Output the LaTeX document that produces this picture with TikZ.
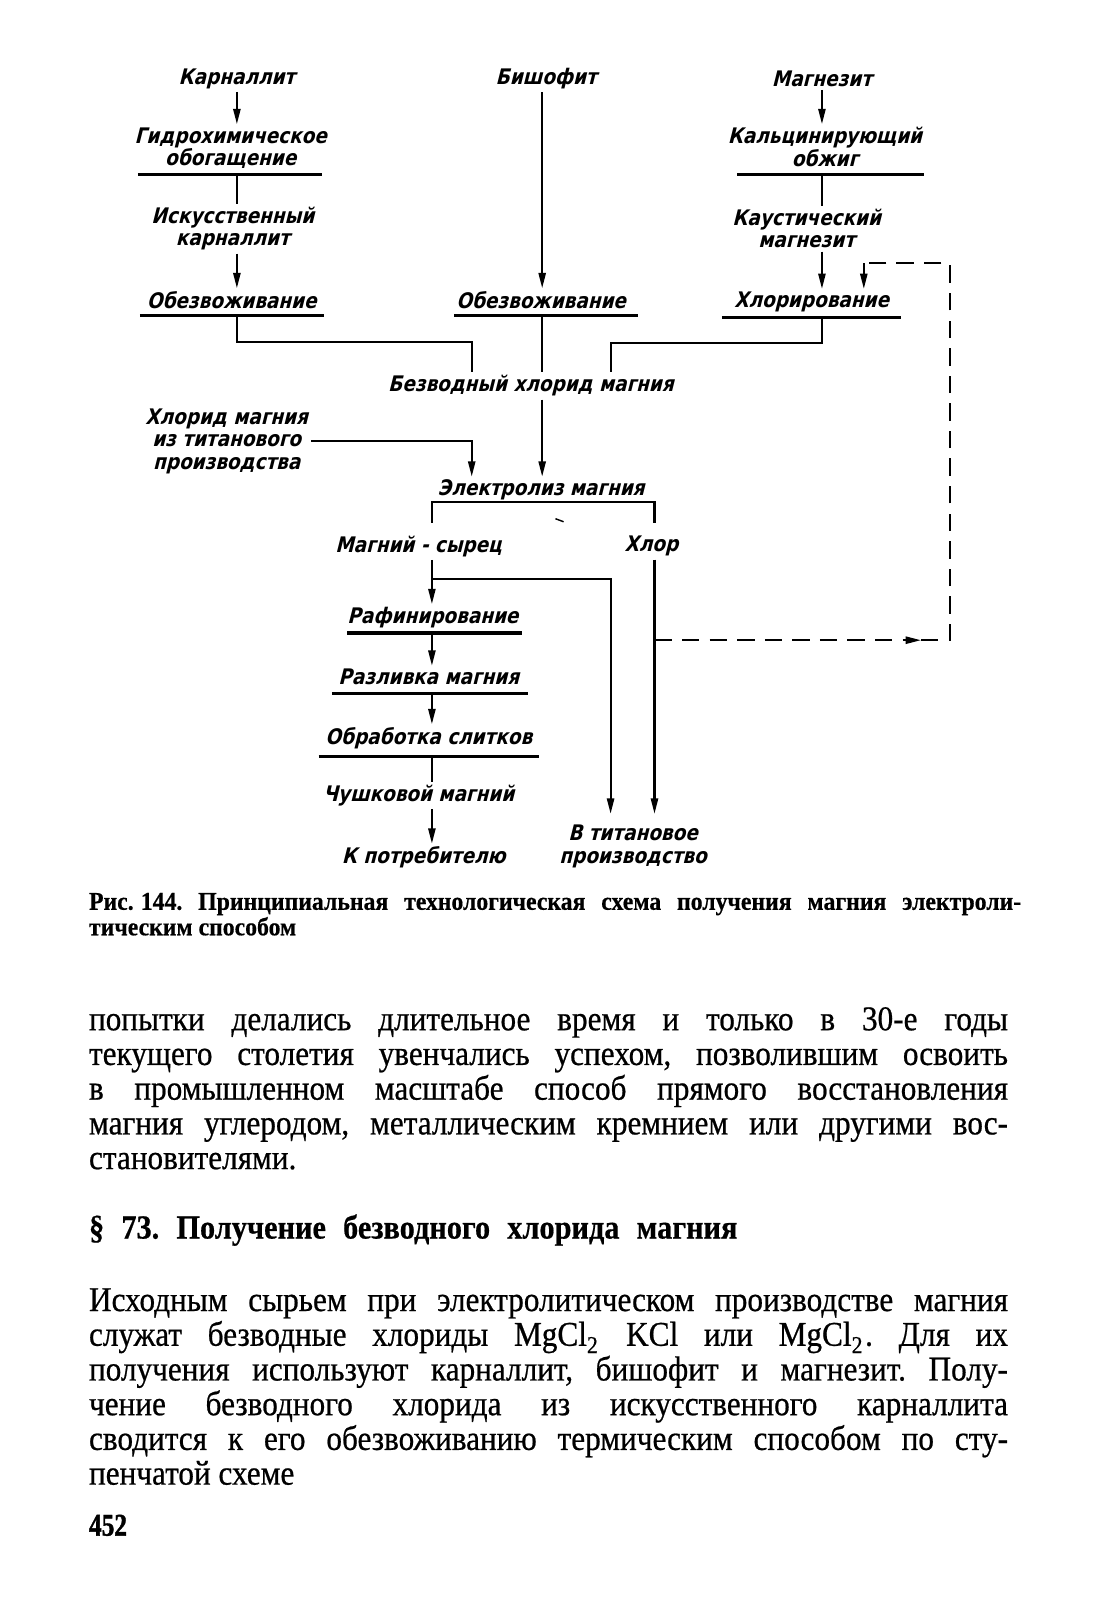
\documentclass[tikz,border=0pt]{standalone}
\usepackage{fontspec}
\setmainfont{Liberation Serif}[FakeStretch=0.9]
\newfontfamily\bodyfont{Liberation Serif}[FakeStretch=0.9,FakeBold=0.6]
\newfontfamily\capfont{Liberation Serif Bold}[FakeStretch=0.93,FakeBold=0.5]
\newfontfamily\headfont{Liberation Serif Bold}[FakeStretch=0.9,FakeBold=0.5]
\newfontfamily\pgfont{Liberation Serif Bold}[FakeStretch=0.8,FakeBold=1.2]
\newfontfamily\dia{DejaVu Sans}[FakeSlant=0.25,FakeStretch=0.86,UprightFont=* Bold]
\usetikzlibrary{arrows.meta}
\begin{document}
\frenchspacing
\begin{tikzpicture}[x=1pt,y=-1pt,
  lbl/.style={font=\dia\fontsize{21}{22}\selectfont, inner sep=3pt, align=center},
  bar/.style={line width=3.4pt},
  conn/.style={line width=2pt},
  arr/.style={conn, -{Triangle[length=15pt,width=7pt]}},
  dsh/.style={line width=2pt, dash pattern=on 17pt off 10pt},
  body/.style={anchor=base west, inner sep=0pt, font=\bodyfont\fontsize{34}{34}\selectfont},
  capt/.style={anchor=base west, inner sep=0pt, font=\capfont\fontsize{25}{26}\selectfont}]
\useasboundingbox[fill=white] (0,0) rectangle (1070,1568);

% columns
\coordinate (cL) at (232,0);
\coordinate (cM) at (531,0);
\coordinate (cR) at (805,0);
\coordinate (cS) at (423,0);
\coordinate (cH) at (641,0);
\coordinate (jL) at (462,0);
\coordinate (jR) at (598,0);
\coordinate (cD) at (846,0);

% labels
\node[lbl] (karn) at (232,77) {Карналлит};
\node[lbl] (gidro) at (226,145) {Гидрохимическое\\обогащение};
\node[lbl] (iskus) at (228,224) {Искусственный\\карналлит};
\node[lbl] (obez1) at (227,294) {Обезвоживание};
\node[lbl] (bish) at (535,77) {Бишофит};
\node[lbl] (obez2) at (530,294) {Обезвоживание};
\node[lbl] (magn) at (805,77) {Магнезит};
\node[lbl] (kalc) at (808,144) {Кальцинирующий\\обжиг};
\node[lbl] (kaust) at (790,224) {Каустический\\магнезит};
\node[lbl] (chlorir) at (795,296) {Хлорирование};
\node[lbl] (bezv) at (520,378) {Безводный хлорид магния};
\node[lbl] (titan) at (222,432) {Хлорид магния\\из титанового\\производства};
\node[lbl] (elek) at (530,480) {Электролиз магния};
\node[lbl] (syr) at (410,535) {Магний - сырец};
\node[lbl] (chlor) at (638,535) {Хлор};
\node[lbl] (rafin) at (424,605) {Рафинирование};
\node[lbl] (razl) at (420,663) {Разливка магния};
\node[lbl] (obrab) at (420,723) {Обработка слитков};
\node[lbl] (chush) at (410,779) {Чушковой магний};
\node[lbl] (potr) at (415,840) {К потребителю};
\node[lbl] (vtit) at (620,829) {В титановое\\производство};

% underline bars
\draw[bar] (135,171) -- (315,171);
\draw[bar] (137,309) -- (317,309);
\draw[bar] (445,309) -- (625,309);
\draw[bar] (722,171) -- (905,171);
\draw[bar] (707,311) -- (882,311);
\draw[bar] (340,620) -- (511,620);
\draw[bar] (325,679) -- (517,679);
\draw[bar] (312,741) -- (528,741);

% bar points
\coordinate (bG) at (232,171);
\coordinate (bO1) at (232,309);
\coordinate (bO2) at (531,309);
\coordinate (bK) at (805,171);
\coordinate (bC) at (805,311);
\coordinate (bRf) at (423,620);
\coordinate (bRz) at (423,679);
\coordinate (bOb) at (423,741);

% left chain
\draw[arr] (karn.south -| cL) -- (gidro.north -| cL);
\draw[conn] (bG) -- (iskus.north -| cL);
\draw[arr] (iskus.south -| cL) -- (obez1.north -| cL);
\draw[conn] (bO1) -- (232,335) -| (bezv.north -| jL);

% middle chain
\draw[arr] (bish.south -| cM) -- (obez2.north -| cM);
\draw[conn] (bO2) -- (bezv.north -| cM);

% right chain
\draw[arr] (magn.south -| cR) -- (kalc.north -| cR);
\draw[conn] (bK) -- (kaust.north -| cR);
\draw[arr] (kaust.south -| cR) -- (chlorir.north -| cR);
\draw[conn] (bC) -- (805,336) -| (bezv.north -| jR);

% to electrolysis
\draw[arr] (bezv.south -| cM) -- (elek.north -| cM);
\draw[arr] (titan.east) -| (elek.north -| jL);

% bracket
\coordinate (brL) at (423,512);
\coordinate (brR) at (641,512);
\draw[conn] (brL) |- (530,492) -| (brR);
\draw[line width=1.4pt] (544,508) -- (552,511);

% outputs
\coordinate (jS) at (423,567);
\coordinate (vEnd) at (0,797);
\draw[arr] (syr.south -| cS) -- (rafin.north -| cS);
\draw[arr] (jS) -| (vEnd -| jR);
\draw[arr] (chlor.south -| cH) -- (vEnd -| cH);
\draw[arr] (bRf) -- (razl.north -| cS);
\draw[arr] (bRz) -- (obrab.north -| cS);
\draw[conn] (bOb) -- (chush.north -| cS);
\draw[arr] (chush.south -| cS) -- (potr.north -| cS);

% dashed return of chlorine
\coordinate (dS) at (641,627);
\coordinate (dA) at (902,627);
\draw[dsh, -{Triangle[length=15pt,width=7pt]}] (dS) -- (dA);
\draw[dsh] (dA) -- (930,627) -- (930,258) -- (cD |- 0,258) coordinate (dT);
\draw[arr] (dT) -- (chlorir.north -| cD);

% caption
\node[capt] (cap1) at (87,891) {\makebox[913pt][s]{Рис.\hspace{7pt}144. Принципиальная технологическая схема получения магния электроли-}};
\node[capt] (cap2) at (87,916) {тическим способом};

% body text
\node[body] (t1) at (87,1009) {\makebox[900pt][s]{попытки делались длительное время и только в 30-е годы}};
\node[body] (t2) at (87,1043) {\makebox[900pt][s]{текущего столетия увенчались успехом, позволившим освоить}};
\node[body] (t3) at (87,1077) {\makebox[900pt][s]{в промышленном масштабе способ прямого восстановления}};
\node[body] (t4) at (87,1111) {\makebox[900pt][s]{магния углеродом, металлическим кремнием или другими вос-}};
\node[body] (t5) at (87,1145) {становителями.};

\node[body, font=\headfont\fontsize{33}{34}\selectfont] (head) at (87,1213) {\makebox[635pt][s]{§ 73. Получение безводного хлорида магния}};

\node[body] (p1) at (87,1284) {\makebox[900pt][s]{Исходным сырьем при электролитическом производстве магния}};
\node[body] (p2) at (87,1318) {\makebox[900pt][s]{служат безводные хлориды MgCl\textsubscript{2}\kern2pt{} KCl или MgCl\textsubscript{2}\kern2pt. Для их}};
\node[body] (p3) at (87,1352) {\makebox[900pt][s]{получения используют карналлит, бишофит и магнезит. Полу-}};
\node[body] (p4) at (87,1386) {\makebox[900pt][s]{чение безводного хлорида из искусственного карналлита}};
\node[body] (p5) at (87,1420) {\makebox[900pt][s]{сводится к его обезвоживанию термическим способом по сту-}};
\node[body] (p6) at (87,1454) {пенчатой схеме};

\node[body, font=\pgfont\fontsize{31}{32}\selectfont] (pg) at (87,1504) {452};
\end{tikzpicture}
\end{document}
